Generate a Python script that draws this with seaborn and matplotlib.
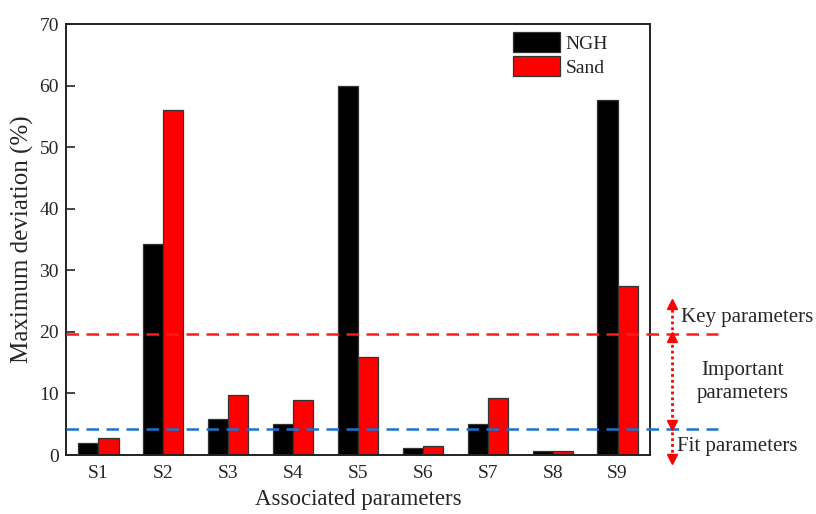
import matplotlib
matplotlib.use("Agg")
import matplotlib.pyplot as plt
import seaborn as sns
import pandas as pd

categories = ["S1", "S2", "S3", "S4", "S5", "S6", "S7", "S8", "S9"]
ngh_values = [2.0, 34.3, 5.8, 5.1, 60.0, 1.2, 5.0, 0.6, 57.7]
sand_values = [2.8, 56.0, 9.8, 9.0, 15.9, 1.4, 9.3, 0.65, 27.4]
series_names = ["NGH", "Sand"]
key_threshold = 19.7
fit_threshold = 4.3
arrow_top = 25.1
arrow_bottom = -1.1
yticks = [0, 10, 20, 30, 40, 50, 60, 70]

df = pd.DataFrame({
    "param": categories * 2,
    "value": ngh_values + sand_values,
    "series": [series_names[0]] * len(categories) + [series_names[1]] * len(categories),
})

sns.set_style("ticks")
plt.rcParams["font.family"] = ["Liberation Serif", "DejaVu Serif"]
plt.rcParams["mathtext.fontset"] = "stix"

fig = plt.figure(figsize=(8.16, 5.14), dpi=100)
ax = fig.add_axes([66 / 816, 1 - 455 / 514, (650 - 66) / 816, (455 - 24) / 514])

sns.barplot(data=df, x="param", y="value", hue="series", order=categories,
            hue_order=series_names, palette={"NGH": "#000000", "Sand": "#FF0000"},
            width=0.62, gap=0, edgecolor="#333333", linewidth=0.9,
            saturation=1, ax=ax, errorbar=None)

ax.set_xlim(-0.5, 8.5)
ax.set_ylim(0, 70)
ax.set_yticks(yticks)
ax.set_xlabel("Associated parameters", fontsize=16.5, labelpad=5)
ax.set_ylabel("Maximum deviation (%)", fontsize=18, labelpad=4)
ax.tick_params(axis="y", direction="in", length=6.5, width=1.2, labelsize=14, pad=5)
ax.tick_params(axis="x", length=0, labelsize=14, pad=7)
for s in ax.spines.values():
    s.set_visible(True)
    s.set_linewidth(1.4)
    s.set_color("#222222")

# threshold lines extend beyond the axes
ax.axhline(key_threshold, xmin=0, xmax=1.116, color="#FF1A1A", lw=1.8,
           dashes=(5, 3), clip_on=False, zorder=5)
ax.axhline(fit_threshold, xmin=0, xmax=1.116, color="#1874D0", lw=1.8,
           dashes=(5, 3), clip_on=False, zorder=5)

tr = ax.get_yaxis_transform()
ax_x = 1.0377
ax.plot([ax_x, ax_x], [arrow_bottom + 0.6, arrow_top - 0.6], transform=tr,
        color="#FF0000", lw=2.0, ls=(0, (1, 1.1)), clip_on=False, zorder=6)
ax.plot([ax_x], [arrow_top - 0.5], transform=tr, marker="^", color="#FF0000",
        ms=7, clip_on=False, zorder=6)
ax.plot([ax_x], [key_threshold - 0.6], transform=tr, marker="^", color="#FF0000",
        ms=7, clip_on=False, zorder=6)
ax.plot([ax_x], [fit_threshold + 0.6], transform=tr, marker="v", color="#FF0000",
        ms=7, clip_on=False, zorder=6)
ax.plot([ax_x], [arrow_bottom + 0.5], transform=tr, marker="v", color="#FF0000",
        ms=7, clip_on=False, zorder=6)

ax.text(1.053, 22.4, "Key parameters", transform=tr, fontsize=15, va="center", ha="left")
ax.text(1.159, 11.9, "Important\nparameters", transform=tr, fontsize=15,
        va="center", ha="center", linespacing=1.3)
ax.text(1.047, 1.3, "Fit parameters", transform=tr, fontsize=15, va="center", ha="left")

ax.legend(loc="upper left", bbox_to_anchor=((513 - 66) / 584, (455 - 32) / 431),
          frameon=False, fontsize=14, handlelength=2.4, handleheight=1.2,
          handletextpad=0.3, labelspacing=0.2, borderpad=0, borderaxespad=0, title=None)

fig.savefig("out.png", dpi=100)
